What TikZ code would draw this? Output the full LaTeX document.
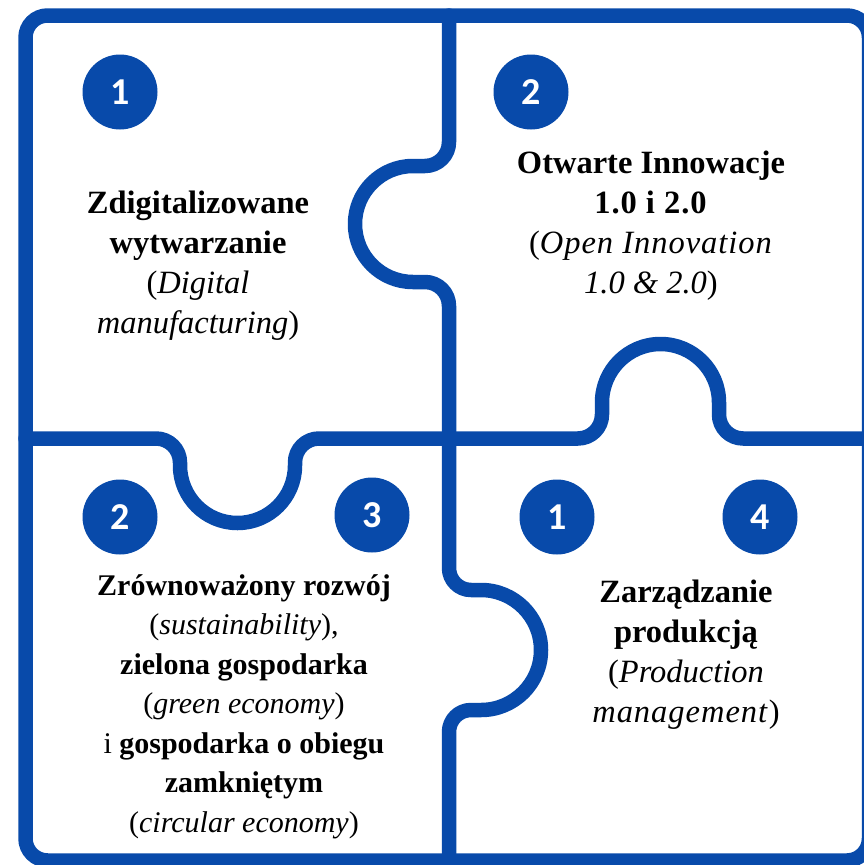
\documentclass[tikz,border=0pt]{standalone}
\usepackage{fontspec}
\setmainfont{Liberation Serif}
\newfontfamily\digitfont{Carlito}
\definecolor{puzzleblue}{RGB}{8,74,170}
\newcommand{\spaced}[1]{{\addfontfeature{LetterSpace=3}#1}}
\begin{document}
\begin{tikzpicture}[x=1pt,y=-1pt,
  cut/.style={draw=puzzleblue, line width=14.5pt, line cap=round, line join=round},
  badge/.style={circle, fill=puzzleblue, minimum size=75pt, inner sep=0pt,
    text=white, font=\digitfont\bfseries\fontsize{38}{38}\selectfont},
  blurb/.style={align=center, anchor=base, inner sep=0pt,
    font=\fontsize{32.5}{40}\selectfont},
  smallblurb/.style={blurb, font=\fontsize{30}{39.5}\selectfont}]
\useasboundingbox (0,0) rectangle (864,865);
\clip (0,0) rectangle (864,865);
\fill[white] (0,0) rectangle (864,865);

% outer frame
\draw[cut, rounded corners=22] (25.5,15.5) rectangle (869,860.5);

% end points of the cuts
\coordinate (vtop) at (449,15.5);
\coordinate (mid) at (449,438.5);
\coordinate (vbot) at (449,860.5);
\coordinate (hleft) at (25.5,438.5);
\coordinate (hright) at (869,438.5);

% vertical cut, upper half: knob pointing left
\draw[cut] (vtop) -- (449,142) arc[start angle=0,end angle=90,radius=24]
  -- (413,166) arc[start angle=-90,end angle=-270,radius=58]
  -- (425,282) arc[start angle=-90,end angle=0,radius=24] -- (mid);

% vertical cut, lower half: knob pointing right
\draw[cut] (mid) -- (449,568) arc[start angle=180,end angle=90,radius=22]
  -- (481,590) arc[start angle=-90,end angle=90,radius=60]
  -- (471,710) arc[start angle=-90,end angle=-180,radius=22] -- (vbot);

% horizontal cut, left half: knob pointing down
\draw[cut] (hleft) -- (156,438.5) arc[start angle=-90,end angle=0,radius=24]
  -- (180,465.5) arc[start angle=180,end angle=0,radius=57.5]
  -- (295,462.5) arc[start angle=180,end angle=270,radius=24] -- (mid);

% horizontal cut, right half: knob pointing up
\draw[cut] (mid) -- (578,438.5) arc[start angle=90,end angle=0,radius=24]
  -- (602,402.5) arc[start angle=180,end angle=360,radius=58.5]
  -- (719,414.5) arc[start angle=180,end angle=90,radius=24] -- (hright);

% numbered badges
\node[badge] (b1) at (120,92) {1};
\node[badge] (b2) at (531,92) {2};
\node[badge] (b3) at (120,517) {2};
\node[badge] (b4) at (372,515) {3};
\node[badge] (b5) at (557,517) {1};
\node[badge] (b6) at (760,517) {4};

% piece captions (anchored at the baseline of the last line)
\node[blurb] (t1) at (198,333) {\textbf{Zdigitalizowane}\\\textbf{wytwarzanie}\\(\textit{Digital}\\\textit{manufacturing})};
\node[blurb] (t2) at (651,293) {\textbf{Otwarte Innowacje}\\\spaced{\textbf{1.0 i 2.0}}\\\spaced{(\textit{Open Innovation}}\\\textit{1.0 \& 2.0})};
\node[smallblurb] (t3) at (244,832) {\textbf{Zrównoważony rozwój}\\(\textit{sustainability}),\\\textbf{zielona gospodarka}\\(\textit{green economy})\\i \textbf{gospodarka o obiegu}\\\textbf{zamkniętym}\\(\textit{circular economy})};
\node[blurb] (t4) at (686,722) {\textbf{Zarządzanie}\\\textbf{produkcją}\\(\textit{Production}\\\spaced{\textit{management}})};
\end{tikzpicture}
\end{document}
